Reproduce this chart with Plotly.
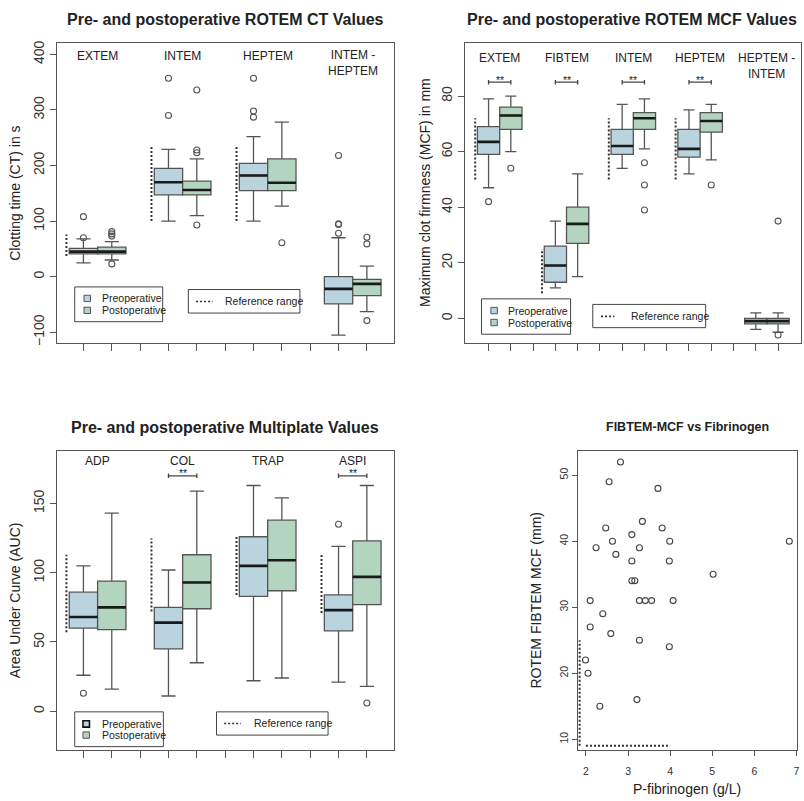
import plotly.graph_objects as go

W, H = 804, 801
FONT = "Liberation Sans, Arial, Helvetica, sans-serif"
PRE_COL = "#b9d4df"
POST_COL = "#b3d4bf"
LINE_COL = "#555555"
TXT = "#222222"

# ---------------- Panel 1: ROTEM CT ----------------
ct_groups = ["EXTEM", "INTEM", "HEPTEM", "INTEM -<br>HEPTEM"]
ct_pos_pre = [1, 4, 7, 10]
ct_pos_post = [2, 5, 8, 11]
ct_pre_lf = [25, 100, 100, -105]
ct_pre_q1 = [41, 147, 155, -49]
ct_pre_med = [45, 170, 182, -22]
ct_pre_q3 = [51, 195, 204, 0]
ct_pre_uf = [68, 229, 252, 70]
ct_pre_out = [[70, 108], [290, 357], [287, 298, 357], [78, 94, 95, 218]]
ct_post_lf = [30, 110, 127, -63]
ct_post_q1 = [41, 147, 155, -34]
ct_post_med = [45, 156, 169, -13]
ct_post_q3 = [53, 172, 212, -5]
ct_post_uf = [63, 212, 278, 19]
ct_post_out = [[23, 73, 77, 81], [93, 223, 228, 336], [61], [-79, 59, 71]]
ct_ref_low = [37, 100, 100]
ct_ref_high = [76, 235, 235]
ct_yticks = [-100, 0, 100, 200, 300, 400]

# ---------------- Panel 2: ROTEM MCF ----------------
mcf_groups = ["EXTEM", "FIBTEM", "INTEM", "HEPTEM", "HEPTEM -<br>INTEM"]
mcf_pos_pre = [1, 4, 7, 10, 13]
mcf_pos_post = [2, 5, 8, 11, 14]
mcf_pre_lf = [47, 11, 54, 52, -4]
mcf_pre_q1 = [59, 13, 59, 58, -2]
mcf_pre_med = [63.5, 19, 62, 61, -1]
mcf_pre_q3 = [69, 26, 68, 68, 0]
mcf_pre_uf = [79, 35, 77, 75, 2]
mcf_pre_out = [[42], [], [], [], []]
mcf_post_lf = [60, 15, 61, 57, -5]
mcf_post_q1 = [68, 27, 68, 67, -2]
mcf_post_med = [73, 34, 72, 71, -1]
mcf_post_q3 = [76, 40, 74, 74, 0]
mcf_post_uf = [80, 52, 79, 77, 2]
mcf_post_out = [[54], [], [39, 48, 56], [48], [-6, 35]]
mcf_ref_low = [50, 9, 50, 50]
mcf_ref_high = [72, 25, 72, 72]
mcf_sig = [True, True, True, True, False]
mcf_sig_y = 85
mcf_yticks = [0, 20, 40, 60, 80]

# ---------------- Panel 3: Multiplate ----------------
mp_groups = ["ADP", "COL", "TRAP", "ASPI"]
mp_pos_pre = [1, 4, 7, 10]
mp_pos_post = [2, 5, 8, 11]
mp_pre_lf = [26, 11, 22, 21]
mp_pre_q1 = [60, 45, 83, 58]
mp_pre_med = [68, 64, 105, 73]
mp_pre_q3 = [86, 75, 126, 84]
mp_pre_uf = [105, 102, 163, 119]
mp_pre_out = [[13], [], [], [135]]
mp_post_lf = [16, 35, 24, 18]
mp_post_q1 = [59, 74, 87, 77]
mp_post_med = [75, 93, 109, 97]
mp_post_q3 = [94, 113, 138, 123]
mp_post_uf = [143, 159, 154, 163]
mp_post_out = [[], [], [], [6]]
mp_ref_low = [57, 72, 84, 71]
mp_ref_high = [113, 125, 127, 114]
mp_sig = [False, True, False, True]
mp_sig_y = 170
mp_yticks = [0, 50, 100, 150]

# ---------------- Panel 4: scatter ----------------
fibrinogen = [2.82, 2.55, 3.71, 3.34, 2.47, 3.81, 3.09, 2.63, 3.99, 6.83,
              2.24, 3.27, 2.71, 3.09, 3.98, 5.02, 3.09, 3.16, 2.10, 3.27,
              3.41, 3.56, 4.07, 2.40, 2.10, 2.59, 3.27, 3.98, 1.99, 2.05,
              2.33, 3.21]
fibtem_mcf = [52, 49, 48, 43, 42, 42, 41, 40, 40, 40,
              39, 39, 38, 37, 37, 35, 34, 34, 31, 31,
              31, 31, 31, 29, 27, 26, 25, 24, 22, 20,
              15, 16]
fib_ref = [2, 4]
fibtem_ref = [9, 25]
sc_xticks = [2, 3, 4, 5, 6, 7]
sc_yticks = [10, 20, 30, 40, 50]


def PX(x):
    return x / W


def PY(y):
    return 1 - y / H


fig = go.Figure()


def add_boxes(xa, ya, pos, lf, q1, med, q3, uf, out, color):
    fig.add_trace(go.Box(
        x=pos, lowerfence=lf, q1=q1, median=med, q3=q3, upperfence=uf,
        width=1.0, fillcolor=color, line=dict(color=LINE_COL, width=1.3),
        whiskerwidth=0.5, boxpoints=False, xaxis=xa, yaxis=ya,
        showlegend=False, hoverinfo="skip"))
    mx, my = [], []
    for p, m in zip(pos, med):
        mx += [p - 0.5, p + 0.5, None]
        my += [m, m, None]
    fig.add_trace(go.Scatter(x=mx, y=my, mode="lines",
                             line=dict(color="#1a1a1a", width=2.6),
                             xaxis=xa, yaxis=ya, showlegend=False, hoverinfo="skip"))
    ox, oy = [], []
    for p, vals in zip(pos, out):
        for v in vals:
            ox.append(p)
            oy.append(v)
    if ox:
        fig.add_trace(go.Scatter(x=ox, y=oy, mode="markers",
                                 marker=dict(symbol="circle-open", size=6, color=LINE_COL,
                                             line=dict(width=1.1, color=LINE_COL)),
                                 xaxis=xa, yaxis=ya, showlegend=False, hoverinfo="skip"))


def add_ref(xa, ya, pos_pre, low, high):
    rx, ry = [], []
    for p, lo, hi in zip(pos_pre, low, high):
        rx += [p - 0.6, p - 0.6, None]
        ry += [lo, hi, None]
    fig.add_trace(go.Scatter(x=rx, y=ry, mode="lines",
                             line=dict(color="#333333", width=2, dash="2px,2px"),
                             xaxis=xa, yaxis=ya, showlegend=False, hoverinfo="skip"))


def add_sig(xa, ya, pos_pre, pos_post, sig, y, cap):
    bx, by = [], []
    for p1, p2, s in zip(pos_pre, pos_post, sig):
        if not s:
            continue
        bx += [p1, p2, None, p1, p1, None, p2, p2, None]
        by += [y, y, None, y - cap, y + cap, None, y - cap, y + cap, None]
        fig.add_annotation(x=(p1 + p2) / 2, y=y, xref=xa, yref=ya, text="**",
                           showarrow=False, yanchor="middle", yshift=2.5, borderpad=0,
                           font=dict(family=FONT, size=10.5, color=TXT))
    fig.add_trace(go.Scatter(x=bx, y=by, mode="lines",
                             line=dict(color="#444444", width=1.3),
                             xaxis=xa, yaxis=ya, showlegend=False, hoverinfo="skip"))


# Panel 1
add_boxes("x", "y", ct_pos_pre, ct_pre_lf, ct_pre_q1, ct_pre_med, ct_pre_q3, ct_pre_uf, ct_pre_out, PRE_COL)
add_boxes("x", "y", ct_pos_post, ct_post_lf, ct_post_q1, ct_post_med, ct_post_q3, ct_post_uf, ct_post_out, POST_COL)
add_ref("x", "y", ct_pos_pre, ct_ref_low, ct_ref_high)

# Panel 2
add_boxes("x2", "y2", mcf_pos_pre, mcf_pre_lf, mcf_pre_q1, mcf_pre_med, mcf_pre_q3, mcf_pre_uf, mcf_pre_out, PRE_COL)
add_boxes("x2", "y2", mcf_pos_post, mcf_post_lf, mcf_post_q1, mcf_post_med, mcf_post_q3, mcf_post_uf, mcf_post_out, POST_COL)
add_ref("x2", "y2", mcf_pos_pre, mcf_ref_low, mcf_ref_high)
add_sig("x2", "y2", mcf_pos_pre, mcf_pos_post, mcf_sig, mcf_sig_y, 0.8)

# Panel 3
add_boxes("x3", "y3", mp_pos_pre, mp_pre_lf, mp_pre_q1, mp_pre_med, mp_pre_q3, mp_pre_uf, mp_pre_out, PRE_COL)
add_boxes("x3", "y3", mp_pos_post, mp_post_lf, mp_post_q1, mp_post_med, mp_post_q3, mp_post_uf, mp_post_out, POST_COL)
add_ref("x3", "y3", mp_pos_pre, mp_ref_low, mp_ref_high)
add_sig("x3", "y3", mp_pos_pre, mp_pos_post, mp_sig, mp_sig_y, 1.6)

# Panel 4
fig.add_trace(go.Scatter(x=fibrinogen, y=fibtem_mcf, mode="markers",
                         marker=dict(symbol="circle-open", size=6, color="#444444",
                                     line=dict(width=1.1, color="#444444")),
                         xaxis="x4", yaxis="y4", showlegend=False, hoverinfo="skip"))
fig.add_trace(go.Scatter(x=[fib_ref[0], fib_ref[1], None, 1.85, 1.85],
                         y=[9.0, 9.0, None, fibtem_ref[0], fibtem_ref[1]],
                         mode="lines", line=dict(color="#333333", width=2, dash="2px,2px"),
                         xaxis="x4", yaxis="y4", showlegend=False, hoverinfo="skip"))


def axstyle(**kw):
    d = dict(showline=True, linecolor="#555555", linewidth=1, mirror=True,
             showgrid=False, zeroline=False, ticks="outside", tickcolor="#555555",
             ticklen=6, tickwidth=1, fixedrange=True,
             tickfont=dict(family=FONT, size=14, color="#333333"))
    d.update(kw)
    return d


fig.update_layout(
    width=W, height=H, margin=dict(l=0, r=0, t=0, b=0),
    paper_bgcolor="white", plot_bgcolor="white", showlegend=False,
    boxmode="overlay",
    xaxis=axstyle(domain=[PX(57), PX(395)], range=[0.06, 11.94], tickvals=list(range(1, 12)),
                  showticklabels=False, ticklen=7, anchor="y"),
    yaxis=axstyle(domain=[PY(342.5), PY(40.5)], range=[-120, 420], tickvals=ct_yticks,
                  tickangle=-90, anchor="x"),
    xaxis2=axstyle(domain=[PX(466.7), 1.0], range=[-0.06, 15.03], tickvals=list(range(1, 15)),
                   showticklabels=False, ticklen=7, anchor="y2"),
    yaxis2=axstyle(domain=[PY(342.5), PY(40.5)], range=[-9, 99], tickvals=mcf_yticks,
                   tickangle=-90, anchor="x2"),
    xaxis3=axstyle(domain=[PX(57), PX(395)], range=[0.06, 11.94], tickvals=list(range(1, 12)),
                   showticklabels=False, ticklen=7, anchor="y3"),
    yaxis3=axstyle(domain=[PY(751.7), PY(450.7)], range=[-28, 188], tickvals=mp_yticks,
                   tickangle=-90, anchor="x3"),
    xaxis4=axstyle(domain=[PX(580), PX(800)], range=[1.807, 7.013], tickvals=sc_xticks,
                   tickfont=dict(family=FONT, size=10.5, color="#333333"), ticklen=5,
                   ticklabelstandoff=6, anchor="y4"),
    yaxis4=axstyle(domain=[PY(752), PY(450.7)], range=[8.32, 53.68], tickvals=sc_yticks,
                   tickangle=-90, tickfont=dict(family=FONT, size=10.5, color="#333333"),
                   ticklen=5, anchor="x4"),
)


def txt(xp, yp, text, size, bold=False, angle=0, xanchor="center", color=TXT):
    if bold:
        text = "<b>" + text + "</b>"
    fig.add_annotation(x=PX(xp), y=PY(yp), xref="paper", yref="paper", text=text,
                       showarrow=False, xanchor=xanchor, yanchor="middle", textangle=angle,
                       font=dict(family=FONT, size=size, color=color))


# Titles
txt(226, 17, "Pre- and postoperative ROTEM CT Values", 16, bold=True)
txt(634.5, 17, "Pre- and postoperative ROTEM MCF Values", 16, bold=True)
txt(226, 426.7, "Pre- and postoperative Multiplate Values", 16, bold=True)
txt(690, 426.7, "FIBTEM-MCF vs Fibrinogen", 12.5, bold=True)

# Axis titles
txt(15, 191, "Clotting time (CT) in s", 14, angle=-90)
txt(426.7, 191, "Maximum clot firmness (MCF) in mm", 14, angle=-90)
txt(15, 601, "Area Under Curve (AUC)", 14, angle=-90)
txt(538.3, 601, "ROTEM FIBTEM MCF (mm)", 14, angle=-90)
txt(690, 791, "P-fibrinogen (g/L)", 14)


# Group labels
def group_labels(xa, pos_pre, groups, ypx_one, ypx_two):
    for p, g in zip(pos_pre, groups):
        two = "<br>" in g
        fig.add_annotation(x=p + 0.5, y=PY(ypx_two if two else ypx_one), xref=xa, yref="paper",
                           text=g, showarrow=False, yanchor="middle", borderpad=0,
                           font=dict(family=FONT, size=12, color=TXT))


group_labels("x", ct_pos_pre, ct_groups, 53.3, 60.5)
group_labels("x2", mcf_pos_pre, mcf_groups, 55.7, 63)
group_labels("x3", mp_pos_pre, mp_groups, 461, 468)


# Legends (drawn R-style)
def legend_pair(box, sq_x, sq_y, txt_x, txt_y, pre_border="#555555", pre_bw=1):
    x0, y0, x1, y1 = box
    fig.add_shape(type="rect", xref="paper", yref="paper", x0=PX(x0), x1=PX(x1), y0=PY(y1), y1=PY(y0),
                  line=dict(color="#444444", width=1), fillcolor="white", layer="above")
    for i, (col, lab) in enumerate([(PRE_COL, "Preoperative"), (POST_COL, "Postoperative")]):
        yc = sq_y[i]
        bc, bw = (pre_border, pre_bw) if i == 0 else ("#555555", 1)
        fig.add_shape(type="rect", xref="paper", yref="paper", x0=PX(sq_x), x1=PX(sq_x + 6.5),
                      y0=PY(yc + 3.2), y1=PY(yc - 3.2), line=dict(color=bc, width=bw),
                      fillcolor=col, layer="above")
        txt(txt_x, txt_y[i], lab, 10.5, xanchor="left")


def legend_ref(box, lx0, lx1, ly, tx):
    x0, y0, x1, y1 = box
    fig.add_shape(type="rect", xref="paper", yref="paper", x0=PX(x0), x1=PX(x1), y0=PY(y1), y1=PY(y0),
                  line=dict(color="#444444", width=1), fillcolor="white", layer="above")
    fig.add_shape(type="line", xref="paper", yref="paper", x0=PX(lx0), x1=PX(lx1), y0=PY(ly), y1=PY(ly),
                  line=dict(color="#333333", width=1.6, dash="2px,2px"), layer="above")
    txt(tx, ly, "Reference range", 10.5, xanchor="left")


legend_pair((75, 285.7, 163.3, 320.7), 84.3, [297.3, 309.3], 100, [297.3, 309.3])
legend_ref((189, 288.3, 301, 312), 196.7, 213.3, 300.3, 224)

legend_pair((483.3, 297.7, 572.7, 333.3), 492.7, [309.5, 321.5], 508.3, [310, 321.7])
legend_ref((595, 303.3, 708.3, 326.7), 603.3, 616.7, 315.3, 631.7)

legend_pair((75, 713.3, 164, 748.3), 83.3, [725.5, 736.7], 100, [725.3, 736.9], pre_border="#111111", pre_bw=1.6)
legend_ref((217.3, 713.3, 329.3, 736.7), 225, 241.7, 725, 252.7)

fig.write_html("out.html",
               config={"displayModeBar": False, "staticPlot": False},
               post_script="document.body.style.margin='0';document.body.style.overflow='hidden';")
